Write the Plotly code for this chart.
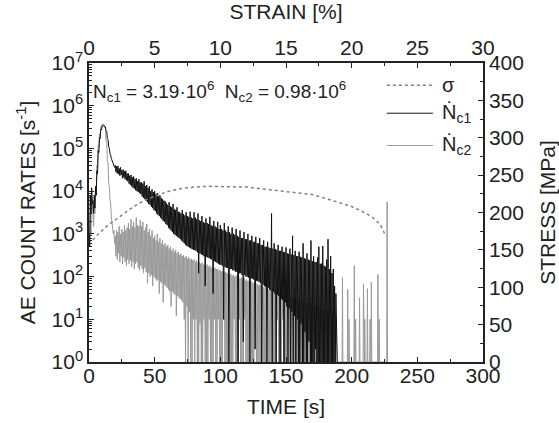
import plotly.graph_objects as go

# ---------------- data ----------------
# AE count rate Nc1 [1/s]: per-second upper and lower values of the noisy trace (t = 0..189 s)
nc1_hi = [
    1e3, 8e3, 1.2e4, 6e3, 8e3, 1.3e4, 3e4, 9e4, 1.8e5, 2.8e5,
    3.4e5, 3.5e5, 3.3e5, 2.6e5, 1.7e5, 1.1e5, 7.5e4, 5.8e4, 4.8e4, 4.2e4,
    4.0e4, 3.8e4, 3.9e4, 3.4e4, 3.6e4, 3.1e4, 3.2e4, 2.9e4, 3.0e4, 2.6e4,
    2.6e4, 2.3e4, 2.4e4, 2.1e4, 2.2e4, 1.9e4, 2.0e4, 1.7e4, 1.9e4, 1.6e4,
    1.6e4, 1.5e4, 1.7e4, 1.3e4, 1.4e4, 1.2e4, 1.3e4, 1.0e4, 1.1e4, 9.5e3,
    1.0e4, 8.5e3, 9e3, 7.5e3, 8e3, 7e3, 6.5e3, 6e3, 5.8e3, 5.2e3,
    4.8e3, 5.5e3, 4.4e3, 4.2e3, 5e3, 3.8e3, 3.6e3, 4.2e3, 3.3e3, 3.2e3,
    3.0e3, 3.6e3, 2.9e3, 2.7e3, 3.2e3, 2.6e3, 2.5e3, 3.3e3, 2.4e3, 2.3e3,
    3.2e3, 2.4e3, 2.2e3, 3.0e3, 2.1e3, 2.0e3, 2.6e3, 1.9e3, 1.8e3, 2.3e3,
    1.8e3, 1.7e3, 2.5e3, 1.6e3, 1.5e3, 2.0e3, 1.5e3, 1.4e3, 1.9e3, 1.3e3,
    1.6e3, 1.3e3, 1.2e3, 1.8e3, 1.2e3, 1.1e3, 1.5e3, 1.1e3, 1.0e3, 1.4e3,
    1.0e3, 9.5e2, 1.3e3, 9e2, 8.5e2, 1.2e3, 8e2, 8e2, 1.1e3, 7.5e2,
    7.5e2, 1.0e3, 7e2, 7e2, 9e2, 6.5e2, 6.5e2, 8.5e2, 6e2, 6e2,
    8e2, 5.5e2, 5.5e2, 7e2, 5e2, 5e2, 6.5e2, 4.8e2, 4.6e2, 3e3,
    4.5e2, 6e2, 4.4e2, 4.2e2, 5.5e2, 4e2, 4e2, 5e2, 3.8e2, 3.7e2,
    4.8e2, 3.5e2, 3.4e2, 4.5e2, 3.3e2, 9e2, 3.2e2, 4e2, 3e2, 3e2,
    3.8e2, 2.9e2, 2.8e2, 6e2, 2.7e2, 2.6e2, 3.5e2, 2.5e2, 2.4e2, 7e2,
    2.3e2, 3e2, 2.2e2, 2.2e2, 2.8e2, 5e2, 2e2, 2e2, 5.2e2, 1.8e2,
    1.7e2, 2.5e2, 7.5e2, 1.5e2, 3e2, 1.2e2, 1.5e2, 60, 40, 1,
]
nc1_lo = [
    5e2, 3e3, 5e3, 3e3, 4e3, 8e3, 2.5e4, 8e4, 1.7e5, 2.7e5,
    3.3e5, 3.4e5, 3.2e5, 2.5e5, 1.6e5, 1.0e5, 7e4, 5.2e4, 4.2e4, 3.6e4,
    2.8e4, 2.6e4, 2.5e4, 2.3e4, 2.4e4, 2.0e4, 2.1e4, 1.9e4, 1.8e4, 1.7e4,
    1.5e4, 1.4e4, 1.3e4, 1.2e4, 1.15e4, 1.05e4, 1.0e4, 9.5e3, 9e3, 8.5e3,
    7.5e3, 7e3, 6.5e3, 6e3, 5.5e3, 5e3, 4.8e3, 4.3e3, 4e3, 3.6e3,
    3.4e3, 3e3, 2.8e3, 2.6e3, 2.4e3, 2.2e3, 2.0e3, 1.9e3, 1.7e3, 1.6e3,
    1.4e3, 1.3e3, 1.2e3, 1.1e3, 1.0e3, 9.5e2, 9e2, 8.5e2, 8e2, 7.5e2,
    7e2, 6.5e2, 6e2, 5.5e2, 5.2e2, 5e2, 4.8e2, 4.6e2, 4.4e2, 4.2e2,
    4.2e2, 4e2, 3.7e2, 1.2e2, 3.5e2, 3.3e2, 3.2e2, 3e2, 60, 2.9e2,
    2.8e2, 2.7e2, 2.6e2, 2.5e2, 40, 2.3e2, 2.2e2, 2.1e2, 2e2, 1.9e2,
    1.9e2, 1.8e2, 10, 1.7e2, 1.6e2, 1.6e2, 1, 1.5e2, 1.5e2, 1.4e2,
    1.4e2, 1.3e2, 1.3e2, 1, 1.2e2, 1.2e2, 1.1e2, 3, 1.1e2, 1e2,
    1e2, 95, 1, 90, 90, 85, 2, 80, 78, 75,
    70, 1, 65, 60, 58, 1, 55, 50, 48, 1,
    45, 40, 1, 38, 35, 1, 30, 28, 1, 25,
    20, 1, 18, 1, 15, 1, 12, 1, 10, 1,
    1, 8, 1, 1, 5, 1, 1, 3, 1, 1,
    1, 1, 2, 1, 1, 1, 1, 1, 1, 1,
    1, 1, 1, 1, 1, 1, 1, 1, 1, 1,
]

# AE count rate Nc2 [1/s]: per-second upper and lower values (t = 0..189 s)
nc2_hi = [
    8e2, 3e3, 1e4, 2e3, 5e3, 9e3, 4e4, 1.2e5, 2.2e5, 3.2e5,
    3.7e5, 3.6e5, 3e5, 1.5e5, 5e4, 1.5e4, 6e3, 2.5e3, 1.5e3, 1.2e3,
    9e2, 1.2e3, 1.1e3, 1.5e3, 1.0e3, 1.3e3, 1.1e3, 1.6e3, 1.2e3, 1.4e3,
    1.8e3, 1.3e3, 2.2e3, 1.5e3, 1.9e3, 1.4e3, 2.4e3, 1.6e3, 1.5e3, 2.1e3,
    1.5e3, 1.9e3, 1.2e3, 1.4e3, 1.7e3, 1.1e3, 1.3e3, 9e2, 1.2e3, 8e2,
    9e2, 7e2, 1e3, 6.5e2, 8e2, 6e2, 7e2, 5.5e2, 6e2, 5e2,
    5.5e2, 4.5e2, 5e2, 4e2, 4.5e2, 3.8e2, 4.2e2, 3.5e2, 3.8e2, 3.2e2,
    3.5e2, 3e2, 3.2e2, 2.8e2, 3e2, 2.6e2, 2.8e2, 2.5e2, 2.6e2, 2.4e2,
    2.5e2, 2.2e2, 2.4e2, 2.1e2, 2.2e2, 2e2, 2.1e2, 1.9e2, 2e2, 1.8e2,
    1.9e2, 1.7e2, 1.8e2, 1.6e2, 1.7e2, 1.5e2, 1.6e2, 1.5e2, 1.5e2, 1.4e2,
    1.4e2, 1.3e2, 1.35e2, 1.25e2, 1.3e2, 1.2e2, 1.2e2, 1.1e2, 1.15e2, 1.05e2,
    1.1e2, 1e2, 1.05e2, 95, 1e2, 90, 95, 85, 90, 80,
    85, 78, 80, 75, 76, 70, 72, 66, 68, 62,
    65, 60, 62, 56, 58, 54, 55, 50, 52, 48,
    50, 46, 48, 44, 45, 42, 43, 40, 41, 38,
    40, 36, 38, 34, 35, 32, 33, 30, 31, 28,
    30, 27, 28, 25, 26, 24, 25, 22, 23, 21,
    22, 20, 21, 19, 20, 18, 19, 17, 18, 16,
    17, 15, 16, 14, 125, 13, 14, 43, 12, 1,
]
nc2_lo = [
    6e2, 1e3, 5e3, 1.5e3, 3e3, 8e3, 3.5e4, 1.1e5, 2.1e5, 3.1e5,
    3.6e5, 3.5e5, 2.9e5, 1.4e5, 4.5e4, 1.3e4, 5e3, 2e3, 1e3, 6e2,
    3e2, 2.5e2, 3.5e2, 2.2e2, 3e2, 2e2, 2.8e2, 2.2e2, 1.8e2, 2.5e2,
    2e2, 2.4e2, 1.7e2, 2.2e2, 1.5e2, 2e2, 2.2e2, 1.6e2, 1.4e2, 1.8e2,
    1.5e2, 1.2e2, 1.6e2, 1.3e2, 70, 1.2e2, 1e2, 1.1e2, 60, 1e2,
    90, 80, 85, 40, 75, 70, 25, 65, 60, 55,
    50, 45, 20, 45, 40, 38, 12, 35, 32, 30,
    28, 25, 10, 1, 20, 1, 15, 1, 1, 10,
    1, 10, 1, 1, 8, 1, 1, 10, 1, 1,
    1, 10, 1, 1, 1, 10, 1, 1, 10, 1,
    1, 1, 10, 1, 1, 1, 10, 1, 1, 1,
    10, 1, 1, 1, 10, 1, 1, 1, 10, 1,
    1, 1, 10, 1, 1, 1, 10, 1, 1, 1,
    1, 10, 1, 1, 1, 10, 1, 1, 1, 10,
    1, 1, 1, 10, 1, 1, 1, 10, 1, 1,
    1, 10, 1, 1, 1, 10, 1, 1, 1, 10,
    1, 1, 1, 10, 1, 1, 1, 10, 1, 1,
    1, 10, 1, 1, 1, 1, 10, 1, 1, 1,
    1, 1, 1, 10, 1, 1, 1, 1, 1, 1,
]
# isolated Nc2 bursts near failure
nc2_spike_time = [193, 197, 198, 202, 203, 206, 209, 210, 212, 214, 215, 220, 221, 227]
nc2_spike_val = [95, 50, 10, 180, 10, 32, 66, 10, 52, 10, 74, 112, 10, 5600]

# stress [MPa] vs time [s]
time_stress = [3, 5, 10, 15, 20, 25, 30, 35, 40, 50, 60, 70, 80, 90, 100, 110,
               120, 130, 140, 150, 160, 170, 180, 190, 200, 205, 210, 215, 220,
               223, 225, 226]
stress = [163, 168, 176, 184, 190, 197, 203, 209, 214, 222, 228, 232, 234, 235,
          235, 235, 234, 232, 230, 228, 226, 224, 219, 214, 208, 204, 200, 195,
          187, 180, 172, 168]

log_tick_vals = [1, 10, 100, 1000, 1e4, 1e5, 1e6, 1e7]
log_tick_text = ["10<sup>%d</sup>" % i for i in range(8)]

legend_labels = ["σ", "Ṅ<sub>c1</sub>", "Ṅ<sub>c2</sub>"]

FONT = "Liberation Sans, Arial, DejaVu Sans, sans-serif"


def band_trace(hi, lo):
    xs, ys = [], []
    for t in range(len(hi)):
        xs += [t, t + 0.5]
        ys += [hi[t], lo[t]]
    return xs, ys


x1, y1 = band_trace(nc1_hi, nc1_lo)
x2, y2 = band_trace(nc2_hi, nc2_lo)
for t, v in zip(nc2_spike_time, nc2_spike_val):
    x2 += [t - 0.3, t, t + 0.3]
    y2 += [1, v, 1]

fig = go.Figure()
fig.add_trace(go.Scatter(x=x2, y=y2, mode="lines", name=legend_labels[2],
                         line=dict(color="#999999", width=1.0),
                         xaxis="x", yaxis="y", showlegend=False))
fig.add_trace(go.Scatter(x=x1, y=y1, mode="lines", name=legend_labels[1],
                         line=dict(color="#111111", width=1.0),
                         xaxis="x", yaxis="y", showlegend=False))
fig.add_trace(go.Scatter(x=time_stress, y=stress, mode="lines", name=legend_labels[0],
                         line=dict(color="#808080", width=1.5, dash="dot"),
                         xaxis="x", yaxis="y2", showlegend=False))
fig.add_trace(go.Scatter(x=[None], y=[None], mode="lines", showlegend=False,
                         hoverinfo="skip", xaxis="x2", yaxis="y2"))

axis_common = dict(showline=True, linecolor="#222", linewidth=1.5,
                   ticks="inside", tickcolor="#222", ticklen=5, tickwidth=1.2,
                   showgrid=False, zeroline=False, automargin=False,
                   tickfont=dict(family=FONT, size=21, color="#222"))

fig.update_layout(
    width=559, height=423,
    margin=dict(l=89, r=76, t=63, b=61),
    paper_bgcolor="white", plot_bgcolor="white",
    font=dict(family=FONT, size=21, color="#222"),
    showlegend=False,
    xaxis=dict(range=[0, 300], dtick=50, ticklabelstandoff=-6,
               title=dict(text="TIME [s]", font=dict(size=21), standoff=13),
               minor=dict(ticks="inside", ticklen=3, dtick=25, tickcolor="#222"),
               **axis_common),
    xaxis2=dict(range=[0, 30], dtick=5, overlaying="x", side="top",
                ticklabelstandoff=-2,
                title=dict(text="STRAIN [%]", font=dict(size=21), standoff=16),
                minor=dict(ticks="inside", ticklen=3, dtick=2.5, tickcolor="#222"),
                **axis_common),
    yaxis=dict(type="log", range=[0, 7], tickvals=log_tick_vals,
               ticktext=log_tick_text,
               title=dict(text="AE COUNT RATES [s<sup>-1</sup>]",
                          font=dict(size=21), standoff=10),
               minor=dict(ticks="inside", ticklen=3, dtick="D1", tickcolor="#222"),
               **axis_common),
    yaxis2=dict(range=[0, 400], dtick=50, overlaying="y", side="right",
                title=dict(text="STRESS [MPa]", font=dict(size=21), standoff=19),
                minor=dict(ticks="inside", ticklen=3, dtick=25, tickcolor="#222"),
                **axis_common),
)

# manual legend (paper coordinates of the plot area)
legend_rows = [
    (0.926, dict(color="#808080", width=1.5, dash="dot")),
    (0.832, dict(color="#151515", width=1.0)),
    (0.724, dict(color="#9a9a9a", width=1.0)),
]
for (yy, ln), lab in zip(legend_rows, legend_labels):
    fig.add_shape(type="line", xref="paper", yref="paper",
                  x0=0.756, x1=0.873, y0=yy, y1=yy, line=ln)
    fig.add_annotation(xref="paper", yref="paper", x=0.89, y=yy,
                       xanchor="left", yanchor="middle", text=lab,
                       showarrow=False, font=dict(family=FONT, size=20, color="#222"))

fig.add_annotation(
    xref="paper", yref="paper", x=0.005, y=0.905, xanchor="left", yanchor="middle",
    text="N<sub>c1</sub> = 3.19·10<sup>6</sup>  N<sub>c2</sub> = 0.98·10<sup>6</sup>",
    showarrow=False, font=dict(family=FONT, size=19, color="#222"))

fig.write_html("out.html", config={"displayModeBar": False},
               post_script="document.body.style.margin='0';document.body.style.overflow='hidden';")
